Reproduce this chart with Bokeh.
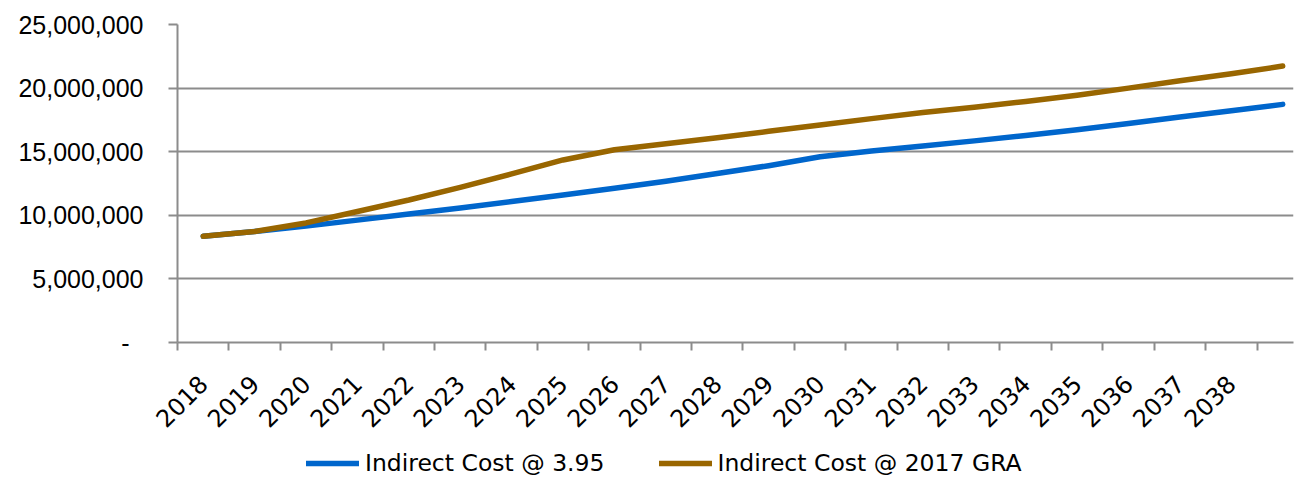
import math
from bokeh.plotting import figure
from bokeh.layouts import column
from bokeh.models import (Range1d, FixedTicker, Legend, LegendItem, ColumnDataSource)
from bokeh.embed import file_html
from bokeh.resources import INLINE

years = list(range(2018, 2040))
tick_labels = [str(y) for y in range(2018, 2039)] + [""]
cost_395 = [8.35e6, 8.72e6, 9.15e6, 9.62e6, 10.10e6, 10.58e6, 11.08e6, 11.60e6,
            12.12e6, 12.68e6, 13.28e6, 13.90e6, 14.60e6, 15.05e6, 15.45e6, 15.85e6,
            16.28e6, 16.72e6, 17.22e6, 17.72e6, 18.22e6, 18.72e6]
cost_gra = [8.35e6, 8.72e6, 9.40e6, 10.30e6, 11.20e6, 12.20e6, 13.25e6, 14.35e6,
            15.15e6, 15.62e6, 16.10e6, 16.60e6, 17.10e6, 17.60e6, 18.08e6, 18.50e6,
            18.95e6, 19.43e6, 20.00e6, 20.58e6, 21.13e6, 21.73e6]
y_ticks = [0, 5e6, 10e6, 15e6, 20e6, 25e6]
y_tick_labels = ["-\u00a0\u00a0", "5,000,000", "10,000,000", "15,000,000", "20,000,000", "25,000,000"]
series_names = ["Indirect Cost @ 3.95", "Indirect Cost @ 2017 GRA"]
colors = ["#0066CC", "#996600"]

xs = list(range(len(years)))
src = ColumnDataSource(dict(x=xs, a=cost_395, b=cost_gra))

GRAY = "#8C8C8C"

p = figure(width=1294, height=440, output_backend="svg", toolbar_location=None,
           x_range=Range1d(-0.5, 21.21), y_range=Range1d(0, 25e6),
           min_border_left=177, min_border_right=1, min_border_top=24,
           min_border_bottom=98)
p.outline_line_color = None
p.background_fill_color = "white"
p.border_fill_color = "white"

# axes
xa = p.xaxis[0]
xa.ticker = FixedTicker(ticks=xs, minor_ticks=[i - 0.5 for i in range(len(years))])
xa.major_label_overrides = {i: lab for i, lab in zip(xs, tick_labels)}
xa.major_tick_line_color = None
xa.minor_tick_out = 8
xa.minor_tick_in = 0
xa.minor_tick_line_color = GRAY
xa.minor_tick_line_width = 2
xa.axis_line_color = GRAY
xa.axis_line_width = 2
xa.major_label_orientation = math.pi / 4
xa.major_label_text_font = "DejaVu Sans"
xa.major_label_text_font_size = "24px"
xa.major_label_text_color = "black"
xa.major_label_standoff = 29

ya = p.yaxis[0]
ya.ticker = FixedTicker(ticks=y_ticks)
ya.major_label_overrides = {t: lab for t, lab in zip(y_ticks, y_tick_labels)}
ya.major_tick_out = 9
ya.major_tick_in = 0
ya.major_tick_line_color = GRAY
ya.major_tick_line_width = 2
ya.minor_tick_line_color = None
ya.axis_line_color = GRAY
ya.axis_line_width = 2
ya.major_label_text_font = "Liberation Sans"
ya.major_label_text_font_size = "25px"
ya.major_label_text_color = "black"
ya.major_label_standoff = 25

p.xgrid.grid_line_color = None
p.ygrid.ticker = FixedTicker(ticks=y_ticks)
p.ygrid.grid_line_color = GRAY
p.ygrid.grid_line_width = 2

p.line("x", "a", source=src, line_width=5.5, line_color=colors[0],
       line_cap="round", line_join="round")
p.line("x", "b", source=src, line_width=5.5, line_color=colors[1],
       line_cap="round", line_join="round")

# legend strip below the chart
lf = figure(width=1294, height=37, output_backend="svg", toolbar_location=None,
            x_range=Range1d(0, 1), y_range=Range1d(0, 1),
            x_axis_type=None, y_axis_type=None,
            min_border_left=0, min_border_right=0, min_border_top=0, min_border_bottom=0)
lf.outline_line_color = None
lf.xgrid.visible = False
lf.ygrid.visible = False
lf.border_fill_color = "white"
l1 = lf.line("x", "a", source=src, line_width=5.5, line_color=colors[0],
             line_cap="round", line_join="round")
l2 = lf.line("x", "b", source=src, line_width=5.5, line_color=colors[1],
             line_cap="round", line_join="round")

legend = Legend(items=[LegendItem(label=series_names[0], renderers=[l1]),
                       LegendItem(label=series_names[1], renderers=[l2])],
                orientation="horizontal", location=(129, 0))
legend.border_line_color = None
legend.background_fill_alpha = 0
legend.glyph_width = 53
legend.glyph_height = 26
legend.label_standoff = 6
legend.spacing = 54
legend.padding = 0
legend.margin = 0
legend.label_text_font = "DejaVu Sans"
legend.label_text_font_size = "23.5px"
legend.label_text_color = "black"
lf.add_layout(legend, "center")

open("out.html", "w").write(file_html(column(p, lf, spacing=0), INLINE))
